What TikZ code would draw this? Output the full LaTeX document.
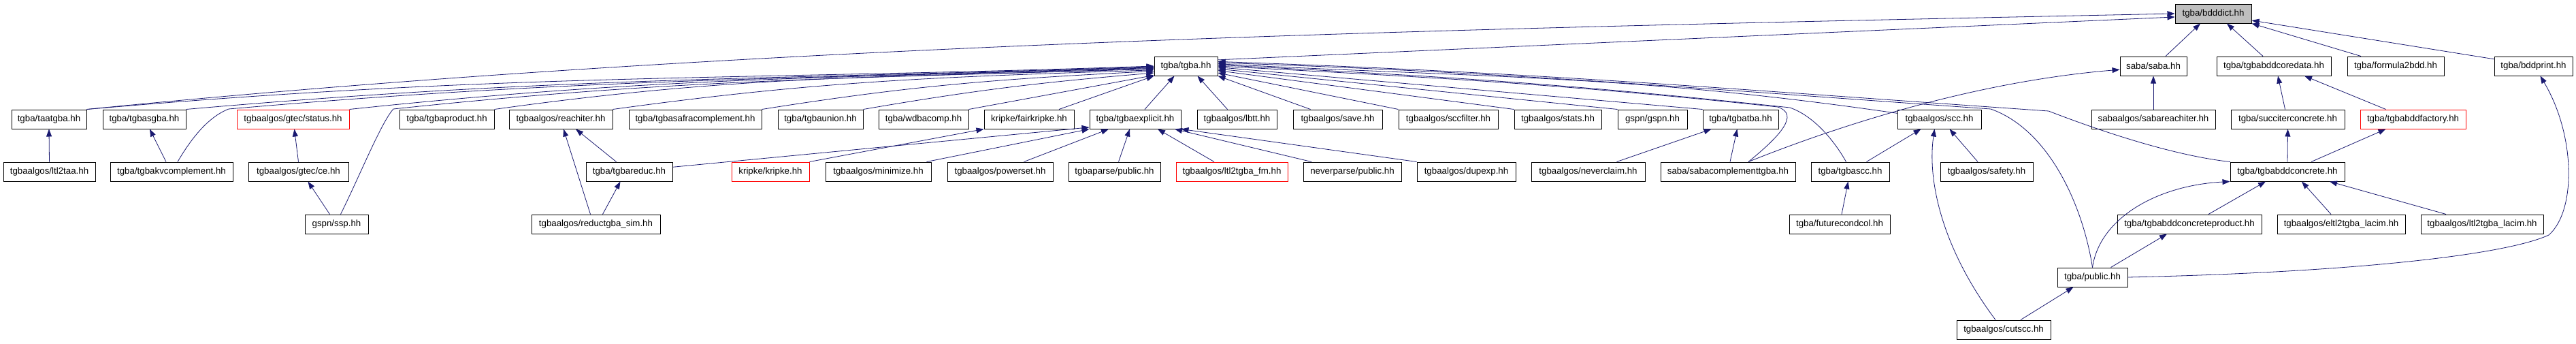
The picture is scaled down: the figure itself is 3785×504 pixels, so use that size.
\documentclass[tikz,border=0pt]{standalone}
\usepackage{fontspec}
\setmainfont{Liberation Sans}
\usetikzlibrary{arrows.meta,calc}
\definecolor{edgec}{HTML}{191970}
\definecolor{boxred}{HTML}{FF0000}
\definecolor{boxgray}{HTML}{BFBFBF}
\begin{document}
\begin{tikzpicture}[x=1pt,y=-1pt,
  box/.style={draw=black, line width=1pt, minimum height=28pt, inner sep=0pt, font=\fontsize{13.3}{15}\selectfont},
  redbox/.style={box, draw=boxred},
  edge/.style={draw=edgec, line width=0.8pt, -{Triangle[length=11pt,width=8pt]}}]
\useasboundingbox (0,0) rectangle (3785,504);
% row 0
\node[box, fill=boxgray, minimum width=112pt] (bdddict) at (3252,20) {tgba/bdddict.hh};
% row 1
\node[box, minimum width=93pt] (tgba) at (1742.5,97) {tgba/tgba.hh};
\node[box, minimum width=98pt] (saba) at (3164,97) {saba/saba.hh};
\node[box, minimum width=168pt] (coredata) at (3341,97) {tgba/tgbabddcoredata.hh};
\node[box, minimum width=142pt] (f2bdd) at (3520,97) {tgba/formula2bdd.hh};
\node[box, minimum width=115pt] (bddprint) at (3722.5,97) {tgba/bddprint.hh};
% row 2
\node[box, minimum width=110pt] (taatgba) at (72,175) {tgba/taatgba.hh};
\node[box, minimum width=122pt] (tgbasgba) at (212,175) {tgba/tgbasgba.hh};
\node[redbox, minimum width=165pt] (status) at (430.5,175) {tgbaalgos/gtec/status.hh};
\node[box, minimum width=139pt] (tgbaproduct) at (656.5,175) {tgba/tgbaproduct.hh};
\node[box, minimum width=152pt] (reachiter) at (824,175) {tgbaalgos/reachiter.hh};
\node[box, minimum width=195pt] (safracomp) at (1021.5,175) {tgba/tgbasafracomplement.hh};
\node[box, minimum width=125pt] (tgbaunion) at (1205.5,175) {tgba/tgbaunion.hh};
\node[box, minimum width=132pt] (wdbacomp) at (1357,175) {tgba/wdbacomp.hh};
\node[box, minimum width=132pt] (fairkripke) at (1512,175) {kripke/fairkripke.hh};
\node[box, minimum width=134pt] (tgbaexplicit) at (1668,175) {tgba/tgbaexplicit.hh};
\node[box, minimum width=117pt] (lbtt) at (1817.5,175) {tgbaalgos/lbtt.hh};
\node[box, minimum width=131pt] (save) at (1965.5,175) {tgbaalgos/save.hh};
\node[box, minimum width=146pt] (sccfilter) at (2128,175) {tgbaalgos/sccfilter.hh};
\node[box, minimum width=128pt] (stats) at (2289,175) {tgbaalgos/stats.hh};
\node[box, minimum width=102pt] (gspn) at (2428,175) {gspn/gspn.hh};
\node[box, minimum width=111pt] (tgbatba) at (2557.5,175) {tgba/tgbatba.hh};
\node[box, minimum width=123pt] (scc) at (2849.5,175) {tgbaalgos/scc.hh};
\node[box, minimum width=182pt] (sabareach) at (3164,175) {sabaalgos/sabareachiter.hh};
\node[box, minimum width=167pt] (succiter) at (3361.5,175) {tgba/succiterconcrete.hh};
\node[redbox, minimum width=155pt] (bddfactory) at (3545.5,175) {tgba/tgbabddfactory.hh};
% row 3
\node[box, minimum width=135pt] (ltl2taa) at (72.5,252) {tgbaalgos/ltl2taa.hh};
\node[box, minimum width=180pt] (kvc) at (252,252) {tgba/tgbakvcomplement.hh};
\node[box, minimum width=147pt] (ce) at (438.5,252) {tgbaalgos/gtec/ce.hh};
\node[box, minimum width=127pt] (tgbareduc) at (924.5,252) {tgba/tgbareduc.hh};
\node[redbox, minimum width=114pt] (kripke) at (1132,252) {kripke/kripke.hh};
\node[box, minimum width=155pt] (minimize) at (1290.5,252) {tgbaalgos/minimize.hh};
\node[box, minimum width=155pt] (powerset) at (1469.5,252) {tgbaalgos/powerset.hh};
\node[box, minimum width=135pt] (tgbaparse) at (1637.5,252) {tgbaparse/public.hh};
\node[redbox, minimum width=164pt] (ltlfm) at (1810,252) {tgbaalgos/ltl2tgba\_fm.hh};
\node[box, minimum width=144pt] (neverparse) at (1987,252) {neverparse/public.hh};
\node[box, minimum width=145pt] (dupexp) at (2154.5,252) {tgbaalgos/dupexp.hh};
\node[box, minimum width=167pt] (neverclaim) at (2333.5,252) {tgbaalgos/neverclaim.hh};
\node[box, minimum width=198pt] (sabacomp) at (2539,252) {saba/sabacomplementtgba.hh};
\node[box, minimum width=115pt] (tgbascc) at (2718.5,252) {tgba/tgbascc.hh};
\node[box, minimum width=136pt] (safety) at (2919,252) {tgbaalgos/safety.hh};
\node[box, minimum width=168pt] (bddconcrete) at (3361,252) {tgba/tgbabddconcrete.hh};
% row 4
\node[box, minimum width=93pt] (ssp) at (494.5,329) {gspn/ssp.hh};
\node[box, minimum width=189pt] (rsim) at (875.5,329) {tgbaalgos/reductgba\_sim.hh};
\node[box, minimum width=148pt] (futurecc) at (2703,329) {tgba/futurecondcol.hh};
\node[box, minimum width=212pt] (bddcp) at (3217,329) {tgba/tgbabddconcreteproduct.hh};
\node[box, minimum width=188pt] (eltl) at (3440,329) {tgbaalgos/eltl2tgba\_lacim.hh};
\node[box, minimum width=180pt] (ltllacim) at (3647,329) {tgbaalgos/ltl2tgba\_lacim.hh};
% row 5, 6
\node[box, minimum width=103pt] (public) at (3074.5,407) {tgba/public.hh};
\node[box, minimum width=138pt] (cutscc) at (2944,484) {tgbaalgos/cutscc.hh};

% ---- edges to bdddict
\draw[edge] (taatgba.north east) .. controls (1127,61) and (2196,41) .. (bdddict.west);
\draw[edge] (tgba.11) -- (bdddict.185);
\draw[edge] ($(saba.north)+(18,0)$) -- ($(bdddict.south)+(-19,0)$);
\draw[edge] ($(coredata.north)+(-16,0)$) -- ($(bdddict.south)+(20,0)$);
\draw[edge] ($(f2bdd.north)+(-51,0)$) -- (bdddict.south east);
\draw[edge] (bddprint.170) -- (bdddict.-10);
% ---- saba
\draw[edge] (sabareach.north) -- (saba.south);
\draw[edge] ($(sabacomp.north)+(30,0)$) .. controls (2700,185) and (2900,120) .. (saba.186);
% ---- coredata, bddconcrete
\draw[edge] ($(succiter.north)+(-4,0)$) -- ($(coredata.south)+(6,0)$);
\draw[edge] ($(bddfactory.north)+(-40,0)$) -- ($(coredata.south)+(45,0)$);
\draw[edge] (bddconcrete.north) -- (succiter.south);
\draw[edge] ($(bddconcrete.north)+(35,0)$) -- ($(bddfactory.south)+(-40,0)$);
\draw[edge] ($(bddcp.north)+(28,0)$) -- ($(bddconcrete.south)+(-32,0)$);
\draw[edge] ($(eltl.north)+(-15,0)$) -- ($(bddconcrete.south)+(21,0)$);
\draw[edge] ($(ltllacim.north)+(-53,0)$) -- ($(bddconcrete.south)+(62,0)$);
% ---- public
\draw[edge] (public.north) .. controls (3085,320) and (3170,272) .. (bddconcrete.south west);
\draw[edge] ($(public.north)+(27,0)$) -- ($(bddcp.south)+(-33,0)$);
\draw[edge] (public.east) .. controls (3450,400) and (3680,375) .. (3745,345) .. controls (3785,310) and (3785,200) .. ($(bddprint.south)+(10,0)$);
\draw[edge] ($(cutscc.north)+(25,0)$) -- ($(public.south)+(-28,0)$);
% ---- scc group
\draw[edge] ($(cutscc.north)+(-12,0)$) .. controls (2850,360) and (2832,260) .. ($(scc.south)+(-7,0)$);
\draw[edge] ($(tgbascc.north)+(24,0)$) -- ($(scc.south)+(-27,0)$);
\draw[edge] ($(safety.north)+(-13,0)$) -- ($(scc.south)+(15,0)$);
\draw[edge] ($(futurecc.north)+(3,0)$) -- ($(tgbascc.south)+(-3,0)$);
% ---- tgbatba
\draw[edge] ($(neverclaim.north)+(42,0)$) -- ($(tgbatba.south)+(-43,0)$);
\draw[edge] ($(sabacomp.north)+(3,0)$) -- ($(tgbatba.south)+(-5,0)$);
% ---- left group
\draw[edge] (ltl2taa.north) -- (taatgba.south);
\draw[edge] ($(kvc.north)+(-8,0)$) -- ($(tgbasgba.south)+(8,0)$);
\draw[edge] (ce.north) -- ($(status.south)+(2,0)$);
\draw[edge] ($(ssp.north)+(-10,0)$) -- ($(ce.south)+(14,0)$);
\draw[edge] ($(tgbareduc.north)+(-19,0)$) -- ($(reachiter.south)+(22,0)$);
\draw[edge] ($(rsim.north)+(-8,0)$) -- ($(reachiter.south)+(4,0)$);
\draw[edge] ($(rsim.north)+(10,0)$) -- ($(tgbareduc.south)+(-13,0)$);
\draw[edge] (kripke.north east) -- (fairkripke.south west);
% ---- tgbaexplicit
\draw[edge] (tgbareduc.6) -- (tgbaexplicit.190);
\draw[edge] ($(minimize.north east)+(-7,0)$) -- (tgbaexplicit.south west);
\draw[edge] ($(powerset.north)+(35,0)$) -- ($(tgbaexplicit.south)+(-39,0)$);
\draw[edge] ($(tgbaparse.north)+(6,0)$) -- ($(tgbaexplicit.south)+(-8,0)$);
\draw[edge] ($(ltlfm.north)+(-26,0)$) -- ($(tgbaexplicit.south)+(33,0)$);
\draw[edge] ($(neverparse.north)+(-60,0)$) -- ($(tgbaexplicit.south)+(58,0)$);
\draw[edge] (dupexp.north west) -- (tgbaexplicit.south east);
% ---- edges to tgba from the left
\draw[edge] (taatgba.north east) .. controls (740,107) and (1081,118) .. (tgba.180);
\draw[edge] (tgbasgba.north east) .. controls (828,112) and (1139,117) .. (tgba.181);
\draw[edge] ($(kvc.north)+(9,0)$) .. controls (280,205) and (305,172) .. (336,160) .. controls (867,114) and (1163,117) .. (tgba.182);
\draw[edge] (status.north east) .. controls (974,112) and (1232,115) .. (tgba.183);
\draw[edge] ($(ssp.north)+(6,0)$) .. controls (530,255) and (560,180) .. (578,160) .. controls (1014,114) and (1258,116) .. (tgba.184);
\draw[edge] (tgbaproduct.north east) .. controls (1102,108) and (1316,114) .. (tgba.185);
\draw[edge] (reachiter.north east) .. controls (1209,118) and (1384,113) .. (tgba.187);
\draw[edge] (safracomp.north east) .. controls (1343,125) and (1469,116) .. (tgba.189);
\draw[edge] (tgbaunion.north east) .. controls (1434,132) and (1528,121) .. (tgba.192);
\draw[edge] (wdbacomp.north east) -- (tgba.196);
\draw[edge] ($(fairkripke.north)+(44,0)$) -- (tgba.south west);
\draw[edge] ($(tgbaexplicit.north)+(14,0)$) -- ($(tgba.south)+(-17,0)$);
\draw[edge] ($(lbtt.north)+(-14,0)$) -- ($(tgba.south)+(17,0)$);
% ---- edges to tgba from the right
\draw[edge] ($(save.north)+(-40,0)$) -- (tgba.south east);
\draw[edge] (sccfilter.north west) -- (tgba.348);
\draw[edge] (stats.north west) -- (tgba.352);
\draw[edge] (gspn.north west) -- (tgba.355);
\draw[edge] (tgbatba.north west) -- (tgba.358);
\draw[edge] ($(sabacomp.north)+(30,0)$) .. controls (2615,200) and (2645,168) .. (2612,157) .. controls (2291,123) and (2111,114) .. (tgba.0);
\draw[edge] ($(tgbascc.north)+(-6,0)$) .. controls (2700,215) and (2670,172) .. (2630,158) .. controls (2302,123) and (2119,112) .. (tgba.2);
\draw[edge] (scc.172) .. controls (2400,110) and (2180,114) .. (tgba.4);
\draw[edge] (public.north) .. controls (3060,300) and (3010,190) .. (2925,160) .. controls (2481,129) and (2234,107) .. (tgba.6);
\draw[edge] (bddconcrete.north west) .. controls (3190,228) and (3080,190) .. (3010,163) .. controls (2532,130) and (2268,107) .. (tgba.8);
\end{tikzpicture}
\end{document}
